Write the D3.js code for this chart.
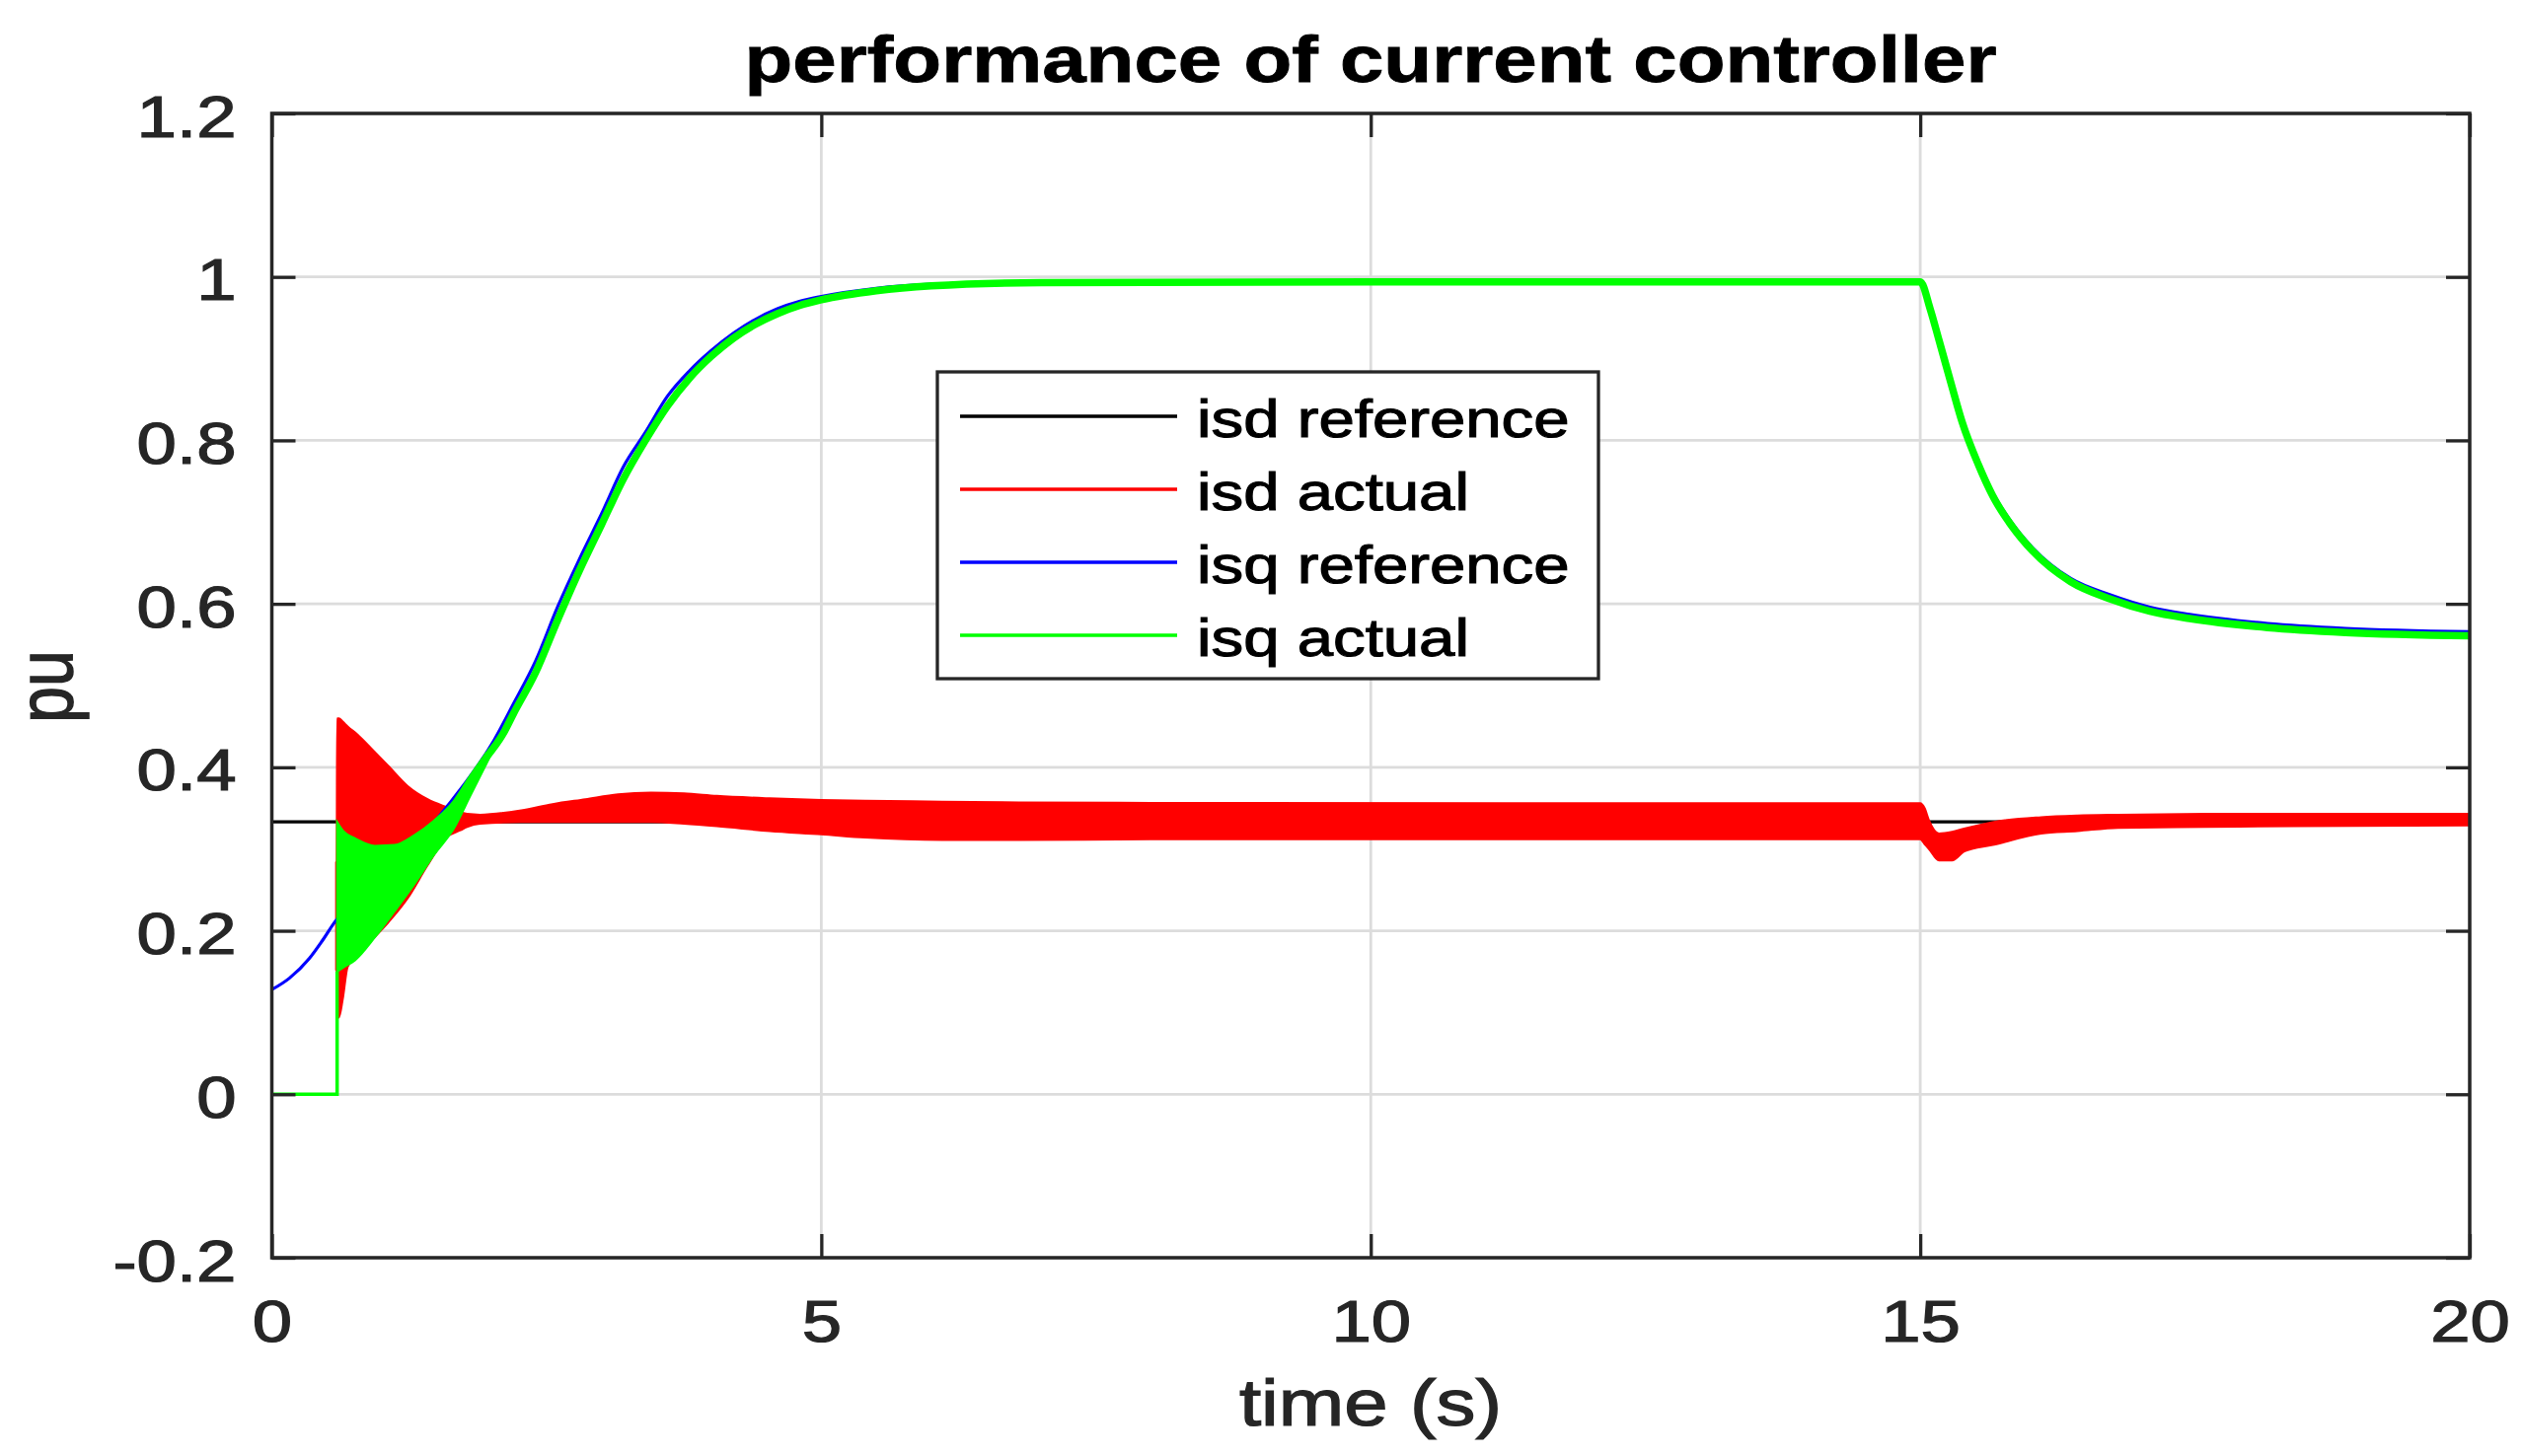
<!DOCTYPE html>
<html><head><meta charset="utf-8">
<script src="https://cdn.jsdelivr.net/npm/d3@7"></script>
<style>html,body{margin:0;padding:0;background:#fff;} svg{display:block;}</style>
</head><body>
<svg id="chart" width="2556" height="1476"></svg>
<script>
// ---------- data ----------
const titleText = "performance of current controller";
const xLabelText = "time (s)";
const yLabelText = "pu";
const xTicks = [0, 5, 10, 15, 20];
const xTickLabels = ["0", "5", "10", "15", "20"];
const yTicks = [-0.2, 0, 0.2, 0.4, 0.6, 0.8, 1, 1.2];
const yTickLabels = ["-0.2", "0", "0.2", "0.4", "0.6", "0.8", "1", "1.2"];
const seriesNames = ["isd reference", "isd actual", "isq reference", "isq actual"];
const seriesColors = ["#000000", "#ff0000", "#0000ff", "#00ff00"];

// isd reference (black)
const isdRefT = [0, 20];
const isdRefV = [0.3333, 0.3333];

// isd actual (red) – oscillating band: lower / upper envelopes
const isdActT  = [0.585, 0.59, 0.594, 0.61, 0.645, 0.69, 0.78, 0.92, 1.058, 1.237, 1.417, 1.596, 1.716, 1.776, 1.895, 2.255, 2.554, 2.853, 3.15, 3.45, 3.75, 4.05, 4.53, 5.0, 5.4, 6.1, 6.8, 8.0, 12.0, 15.0, 15.04, 15.08, 15.17, 15.29, 15.4, 15.66, 16.1, 16.43, 16.8, 17.6, 18.4, 20.0];
const isdActLo = [0.152, 0.152, 0.094, 0.094, 0.116, 0.156, 0.17, 0.19, 0.21, 0.24, 0.28, 0.315, 0.323, 0.327, 0.331, 0.333, 0.333, 0.333, 0.333, 0.333, 0.331, 0.328, 0.322, 0.318, 0.314, 0.311, 0.311, 0.312, 0.312, 0.312, 0.306, 0.300, 0.286, 0.286, 0.297, 0.305, 0.319, 0.322, 0.326, 0.327, 0.328, 0.329];
const isdActHi = [0.284, 0.284, 0.46, 0.46, 0.456, 0.45, 0.44, 0.421, 0.402, 0.377, 0.361, 0.351, 0.345, 0.343, 0.342, 0.347, 0.355, 0.361, 0.367, 0.369, 0.368, 0.365, 0.362, 0.36, 0.359, 0.358, 0.357, 0.3565, 0.356, 0.356, 0.35, 0.335, 0.319, 0.321, 0.325, 0.333, 0.339, 0.341, 0.342, 0.343, 0.343, 0.343];

// isq reference (blue)
const isqRefT = [0, 0.16, 0.34, 0.46, 0.58, 0.8, 1.0, 1.2, 1.4, 1.6, 1.8, 2.0, 2.2, 2.4, 2.6, 2.8, 3.0, 3.2, 3.4, 3.6, 3.8, 4.0, 4.2, 4.4, 4.6, 4.8, 5.0, 5.5, 6.0, 7.0, 10.0, 15.0, 15.09, 15.17, 15.28, 15.38, 15.53, 15.66, 15.84, 16.02, 16.37, 16.73, 17.09, 17.45, 18.16, 18.87, 20.0];
const isqRefV = [0.128, 0.142, 0.166, 0.188, 0.212, 0.24, 0.262, 0.29, 0.32, 0.353, 0.388, 0.428, 0.478, 0.53, 0.596, 0.655, 0.71, 0.768, 0.81, 0.854, 0.885, 0.91, 0.931, 0.948, 0.961, 0.970, 0.976, 0.986, 0.991, 0.994, 0.995, 0.995, 0.963, 0.926, 0.873, 0.827, 0.774, 0.736, 0.698, 0.669, 0.631, 0.611, 0.596, 0.587, 0.576, 0.570, 0.566];

// isq actual (green) – line, plus its start-up oscillation band
const isqActT = [0, 0.594, 0.594, 0.7, 0.9, 1.1, 1.3, 1.5, 1.7, 1.955, 2.1, 2.2, 2.4, 2.6, 2.8, 3.0, 3.2, 3.4, 3.6, 3.8, 4.0, 4.2, 4.4, 4.6, 4.8, 5.0, 5.5, 6.0, 7.0, 10.0, 15.0, 15.09, 15.17, 15.28, 15.38, 15.53, 15.66, 15.84, 16.02, 16.37, 16.73, 17.09, 17.45, 18.16, 18.87, 20.0];
const isqActV = [0, 0, 0.15, 0.24, 0.25, 0.265, 0.287, 0.315, 0.345, 0.413, 0.44, 0.466, 0.516, 0.58, 0.641, 0.697, 0.753, 0.800, 0.842, 0.876, 0.903, 0.925, 0.942, 0.955, 0.965, 0.972, 0.983, 0.989, 0.993, 0.994, 0.994, 0.961, 0.923, 0.870, 0.823, 0.770, 0.732, 0.694, 0.665, 0.627, 0.606, 0.591, 0.582, 0.571, 0.565, 0.561];
const isqBandT  = [0.594, 0.65, 0.758, 0.938, 1.118, 1.297, 1.477, 1.656, 1.806, 1.955, 2.03];
const isqBandLo = [0.15, 0.155, 0.164, 0.192, 0.224, 0.257, 0.293, 0.325, 0.365, 0.405, 0.425];
const isqBandHi = [0.333, 0.322, 0.313, 0.304, 0.305, 0.317, 0.335, 0.359, 0.39, 0.418, 0.43];

// ---------- layout ----------
const SX = 1.21;                 // horizontal stretch of the original text
const FONT = "'Liberation Sans', Arial, Helvetica, sans-serif";
const AX = "#262626";
const L = 275.5, R = 2503, T = 115, B = 1275;

const svg = d3.select("#chart");
svg.append("rect").attr("width", 2556).attr("height", 1476).attr("fill", "#fff");

const x = d3.scaleLinear().domain([0, 20]).range([L, R]);
const y = d3.scaleLinear().domain([-0.2, 1.2]).range([B, T]);

// grid
const grid = svg.append("g");
grid.selectAll("line.gx").data(xTicks).join("line")
  .attr("x1", d => x(d)).attr("x2", d => x(d)).attr("y1", T).attr("y2", B)
  .attr("stroke", "#dcdcdc").attr("stroke-width", 2.8);
grid.selectAll("line.gy").data(yTicks).join("line")
  .attr("y1", d => y(d)).attr("y2", d => y(d)).attr("x1", L).attr("x2", R)
  .attr("stroke", "#dcdcdc").attr("stroke-width", 2.8);

const plot = svg.append("g");
const zip2 = (t, v) => t.map((d, i) => [d, v[i]]);
const zip3 = (t, a, b) => t.map((d, i) => [d, a[i], b[i]]);
const lineLin = d3.line().x(d => x(d[0])).y(d => y(d[1]));
const lineSm = d3.line().x(d => x(d[0])).y(d => y(d[1])).curve(d3.curveMonotoneX);
const areaSm = d3.area().x(d => x(d[0])).y0(d => y(d[1])).y1(d => y(d[2])).curve(d3.curveMonotoneX);

// black reference
plot.append("path").attr("d", lineLin(zip2(isdRefT, isdRefV)))
  .attr("fill", "none").attr("stroke", seriesColors[0]).attr("stroke-width", 3.3);
// red band
plot.append("path").attr("d", areaSm(zip3(isdActT, isdActLo, isdActHi)))
  .attr("fill", seriesColors[1]).attr("stroke", seriesColors[1]).attr("stroke-width", 2).attr("stroke-linejoin", "round");
// blue
plot.append("path").attr("d", lineSm(zip2(isqRefT, isqRefV)))
  .attr("fill", "none").attr("stroke", seriesColors[2]).attr("stroke-width", 3.2).attr("stroke-linejoin", "round");
// green
const gAll = zip2(isqActT, isqActV);
plot.append("path").attr("d", lineLin(gAll.slice(0, 3)))
  .attr("fill", "none").attr("stroke", seriesColors[3]).attr("stroke-width", 3.5);
plot.append("path").attr("d", areaSm(zip3(isqBandT, isqBandLo, isqBandHi)))
  .attr("fill", seriesColors[3]).attr("stroke", seriesColors[3]).attr("stroke-width", 2);
plot.append("path").attr("d", lineSm(gAll.filter(d => d[0] >= 1.955)))
  .attr("fill", "none").attr("stroke", seriesColors[3]).attr("stroke-width", 7.5)
  .attr("stroke-linejoin", "round").attr("stroke-linecap", "butt");

// axes (ticks inward on all sides)
const tickLen = 24;
const yAxisL = d3.axisLeft(y).tickValues(yTicks).tickFormat((d, i) => yTickLabels[i]).tickSizeInner(-tickLen).tickSizeOuter(0);
const yAxisR = d3.axisRight(y).tickValues(yTicks).tickFormat("").tickSizeInner(-tickLen).tickSizeOuter(0);
const xAxisB = d3.axisBottom(x).tickValues(xTicks).tickFormat((d, i) => xTickLabels[i]).tickSizeInner(-tickLen).tickSizeOuter(0);
const xAxisT = d3.axisTop(x).tickValues(xTicks).tickFormat("").tickSizeInner(-tickLen).tickSizeOuter(0);

function styleAxis(g) {
  g.select(".domain").remove();
  g.selectAll(".tick line").attr("stroke", AX).attr("stroke-width", 3.3);
  g.selectAll(".tick text").attr("fill", AX).attr("font-family", FONT).attr("font-size", 60)
    .attr("stroke", AX).attr("stroke-width", 1.2);
}
const gL = svg.append("g").attr("transform", `translate(${L},0)`).call(yAxisL).call(styleAxis);
gL.selectAll(".tick text").attr("x", null).attr("dy", null).attr("text-anchor", "end")
  .attr("transform", `translate(-36,23) scale(${SX},1)`);
svg.append("g").attr("transform", `translate(${R},0)`).call(yAxisR).call(styleAxis);
const gB = svg.append("g").attr("transform", `translate(0,${B})`).call(xAxisB).call(styleAxis);
gB.selectAll(".tick text").attr("y", null).attr("dy", null).attr("text-anchor", "middle")
  .attr("transform", `translate(0,85) scale(${SX},1)`);
svg.append("g").attr("transform", `translate(0,${T})`).call(xAxisT).call(styleAxis);

// frame
svg.append("rect").attr("x", L).attr("y", T).attr("width", R - L).attr("height", B - T)
  .attr("fill", "none").attr("stroke", AX).attr("stroke-width", 3.5);

// title and axis labels
svg.append("text").text(titleText)
  .attr("transform", `translate(1389,83) scale(${SX},1)`).attr("text-anchor", "middle")
  .attr("font-family", FONT).attr("font-weight", "bold").attr("font-size", 66).attr("fill", "#000")
  .attr("stroke", "#000").attr("stroke-width", 0.8);
svg.append("text").text(xLabelText)
  .attr("transform", `translate(1389,1445) scale(${SX},1)`).attr("text-anchor", "middle")
  .attr("font-family", FONT).attr("font-size", 66).attr("fill", AX)
  .attr("stroke", AX).attr("stroke-width", 1.2);
svg.append("text").text(yLabelText)
  .attr("transform", `translate(73,696) scale(${SX},1) rotate(-90)`).attr("text-anchor", "middle")
  .attr("font-family", FONT).attr("font-size", 66).attr("fill", AX)
  .attr("stroke", AX).attr("stroke-width", 1.2);

// legend
const legX = 950, legY = 377, legW = 670, legH = 311;
const leg = svg.append("g");
leg.append("rect").attr("x", legX).attr("y", legY).attr("width", legW).attr("height", legH)
  .attr("fill", "#fff").attr("stroke", AX).attr("stroke-width", 3.3);
const rows = leg.selectAll("g.row").data(seriesNames).join("g")
  .attr("transform", (d, i) => `translate(0,${422 + i * 74})`);
rows.append("line").attr("x1", 973).attr("x2", 1193).attr("y1", 0).attr("y2", 0)
  .attr("stroke", (d, i) => seriesColors[i]).attr("stroke-width", 3.3);
rows.append("text").text(d => d)
  .attr("transform", `translate(1213,21) scale(${SX},1)`)
  .attr("font-family", FONT).attr("font-size", 54).attr("fill", "#000")
  .attr("stroke", "#000").attr("stroke-width", 1.1);
</script>
</body></html>
